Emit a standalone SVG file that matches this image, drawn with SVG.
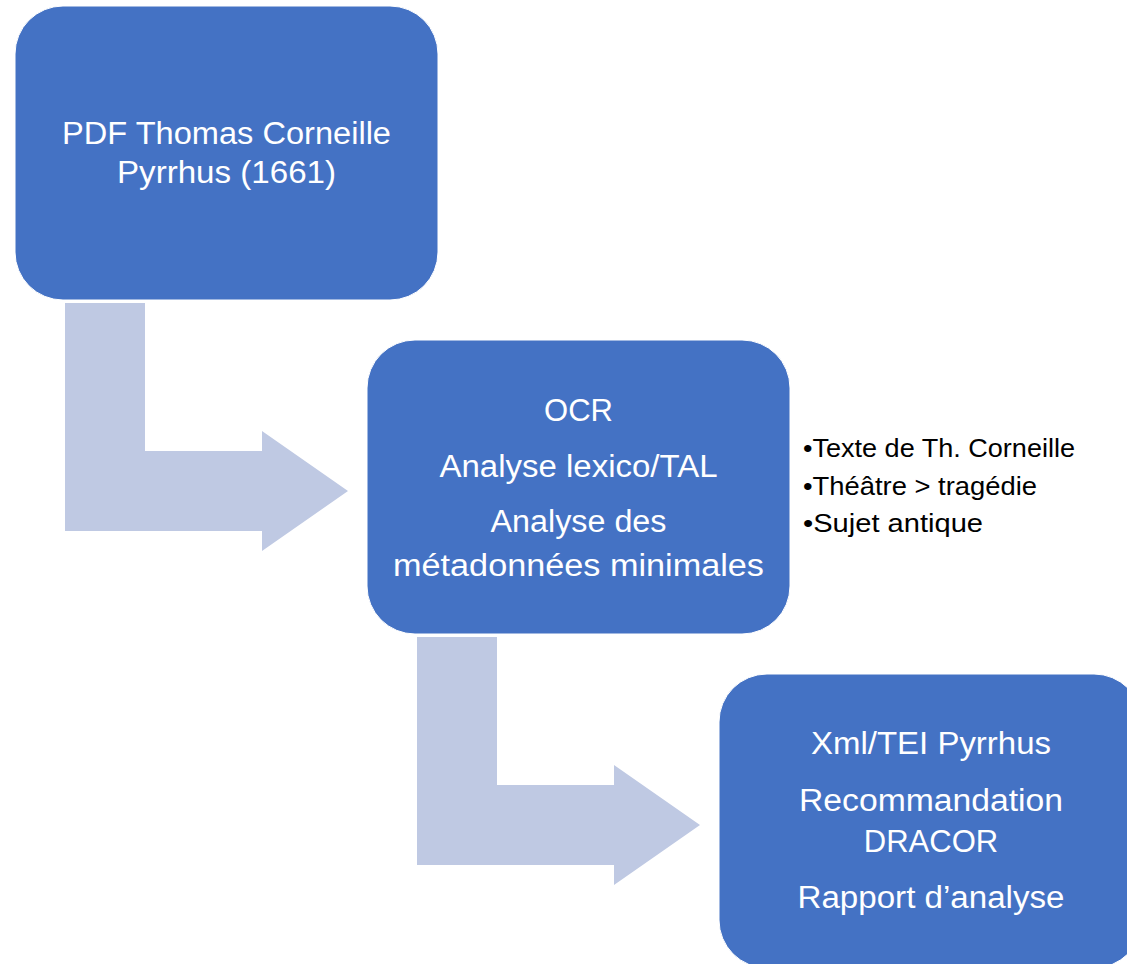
<svg xmlns="http://www.w3.org/2000/svg" width="1127" height="964" viewBox="0 0 1127 964">
<style>
.box{fill:#4472C4;stroke:#ffffff;stroke-width:1}
.arr{fill:#BFC9E3}
.bt{font-family:"Liberation Sans",Arial,sans-serif;font-size:31px;fill:#ffffff;text-anchor:middle}
.bl{font-family:"Liberation Sans",Arial,sans-serif;font-size:25px;fill:#000000}
</style>
<rect width="1127" height="964" fill="#ffffff"/>
<g id="connectors">
<path class="arr" d="M65,303 H145 V451 H262 V431 L348,491 L262,551 V531 H65 Z"/>
<path class="arr" d="M417,637 H497 V785 H614 V765 L700,825 L614,885 V865 H417 Z"/>
</g>
<g id="node1">
<rect class="box" x="15" y="6" width="423" height="294" rx="48" ry="48"/>
<text class="bt" x="226.5" y="144" textLength="329" lengthAdjust="spacingAndGlyphs">PDF Thomas Corneille</text>
<text class="bt" x="226.5" y="183" textLength="219" lengthAdjust="spacingAndGlyphs">Pyrrhus (1661)</text>
</g>
<g id="node2">
<rect class="box" x="367" y="340" width="423" height="294" rx="48" ry="48"/>
<text class="bt" x="578.5" y="421">OCR</text>
<text class="bt" x="578.5" y="477" textLength="278" lengthAdjust="spacingAndGlyphs">Analyse lexico/TAL</text>
<text class="bt" x="578.5" y="532" textLength="176" lengthAdjust="spacingAndGlyphs">Analyse des</text>
<text class="bt" x="578.5" y="576" textLength="371" lengthAdjust="spacingAndGlyphs">métadonnées minimales</text>
</g>
<g id="node2-notes">
<text class="bl" x="803" y="457" textLength="272" lengthAdjust="spacingAndGlyphs">•Texte de Th. Corneille</text>
<text class="bl" x="803" y="495" textLength="234" lengthAdjust="spacingAndGlyphs">•Théâtre &gt; tragédie</text>
<text class="bl" x="803" y="532" textLength="180" lengthAdjust="spacingAndGlyphs">•Sujet antique</text>
</g>
<g id="node3">
<rect class="box" x="719" y="674" width="423" height="294" rx="48" ry="48"/>
<text class="bt" x="931" y="754" textLength="240" lengthAdjust="spacingAndGlyphs">Xml/TEI Pyrrhus</text>
<text class="bt" x="931" y="811" textLength="264" lengthAdjust="spacingAndGlyphs">Recommandation</text>
<text class="bt" x="931" y="852">DRACOR</text>
<text class="bt" x="931" y="908" textLength="267" lengthAdjust="spacingAndGlyphs">Rapport d’analyse</text>
</g>
</svg>
